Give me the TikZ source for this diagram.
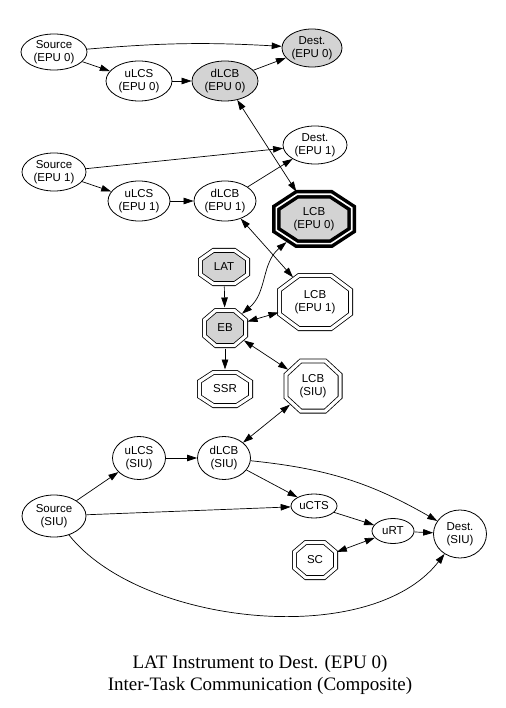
\documentclass[tikz,border=0pt]{standalone}
\usepackage{fontspec}
\setmainfont{Liberation Serif}
\newfontfamily\nodefont{Liberation Sans}
\usetikzlibrary{shapes.geometric,arrows.meta}
\definecolor{lgray}{RGB}{211,211,211}
% octagon outline: #1 options, #2 x, #3 y, #4 half width, #5 half height
\newcommand\octo[5][]{%
 \draw[#1, shift={(#2,#3)}] (#4,{0.45*#5}) -- ({0.45*#4},#5) -- ({-0.45*#4},#5) -- ({-#4},{0.45*#5})
   -- ({-#4},{-0.45*#5}) -- ({-0.45*#4},{-#5}) -- ({0.45*#4},{-#5}) -- (#4,{-0.45*#5}) -- cycle;}
\begin{document}
\begin{tikzpicture}[x=1pt,y=1pt,
 every node/.style={font=\nodefont\fontsize{11.5}{13.5}\selectfont, align=center, inner sep=0pt},
 ell/.style 2 args={ellipse, draw, line width=0.8pt, minimum width=#1, minimum height=#2},
 gr/.style={fill=lgray},
 octline/.style={double, double distance=3.2pt, line width=0.8pt},
 toctline/.style={double, double distance=1.6pt, line width=3.5pt},
 octn/.style 2 args={ellipse, minimum width=#1, minimum height=#2, outer sep=0pt},
 tip/.tip={Triangle[length=10pt,width=6.5pt]},
 arr/.style={line width=0.7pt, -tip},
 barr/.style={line width=0.7pt, tip-tip},
 title/.style={font=\fontsize{19}{21.5}\selectfont\rmfamily},
]
\useasboundingbox (0,0) rectangle (505,-708);
% top: EPU 0
\node[ell={66pt}{36pt}] (S0) at (54,-52) {Source\\(EPU 0)};
\node[ell={66pt}{40pt}] (U0) at (139,-81) {uLCS\\(EPU 0)};
\node[ell={66pt}{40pt}, gr] (D0) at (225,-81) {dLCB\\(EPU 0)};
\node[ell={60pt}{38pt}, gr] (T0) at (312,-48) {Dest.\\(EPU 0)};
% EPU 1
\node[ell={64pt}{38pt}] (S1) at (54,-172) {Source\\(EPU 1)};
\node[ell={64pt}{38pt}] (T1) at (315,-145) {Dest.\\(EPU 1)};
\node[ell={62pt}{40pt}] (U1) at (139,-201) {uLCS\\(EPU 1)};
\node[ell={62pt}{40pt}] (D1) at (225,-201) {dLCB\\(EPU 1)};
% octagons (outline first, then the named node on top)
\octo[toctline, gr]{314}{-219}{37.7}{24.7}
\node[octn={86pt}{60pt}] (L0) at (314,-219) {LCB\\(EPU 0)};
\octo[octline, gr]{224}{-267}{23.6}{16.6}
\node[octn={53.5pt}{39pt}] (LAT) at (224,-267) {LAT};
\octo[octline, gr]{225}{-328}{20.6}{17.6}
\node[octn={47.5pt}{41pt}] (EB) at (225,-328) {EB};
\octo[octline]{315}{-302}{35.6}{26.6}
\node[octn={78pt}{60pt}] (L1) at (315,-302) {LCB\\(EPU 1)};
\octo[octline]{225}{-389}{25.6}{16.6}
\node[octn={57.5pt}{39pt}] (SSR) at (225,-389) {SSR};
\octo[octline]{313}{-386}{27.1}{25.1}
\node[octn={61pt}{57pt}] (LS) at (313,-386) {LCB\\(SIU)};
% SIU
\node[ell={53pt}{43pt}] (US) at (139,-458) {uLCS\\(SIU)};
\node[ell={53pt}{43pt}] (DS) at (224,-458) {dLCB\\(SIU)};
\node[ell={64pt}{42pt}] (SS) at (54,-516) {Source\\(SIU)};
\node[ell={46pt}{24pt}] (CT) at (314,-506) {uCTS};
\node[ell={42pt}{25pt}] (RT) at (393,-531) {uRT};
\node[ell={53pt}{48pt}] (TS) at (460,-534) {Dest.\\(SIU)};
\octo[octline]{315}{-560}{20.6}{17.6}
\node[octn={47.5pt}{41pt}] (SC) at (315,-560) {SC};
% title
\node[title] (TT) at (260,-675) {LAT Instrument to Dest. (EPU 0)\\Inter-Task Communication (Composite)};
% edges
\draw[arr] (S0) to[bend left=4] (T0);
\draw[arr] (S0) -- (U0);
\draw[arr] (U0) -- (D0);
\draw[arr] (D0) -- (T0);
\draw[barr] (D0) -- (L0);
\draw[arr] (S1) -- (T1);
\draw[arr] (S1) -- (U1);
\draw[arr] (U1) -- (D1);
\draw[arr] (D1) -- (T1);
\draw[barr] (D1) -- (L1);
\draw[arr] (LAT) -- (EB);
\draw[barr] (EB) to[out=40,in=-140] (L0);
\draw[barr] (EB) -- (L1);
\draw[arr] (EB) -- (SSR);
\draw[barr] (EB) -- (LS);
\draw[barr] (DS) -- (LS);
\draw[arr] (SS) -- (US);
\draw[arr] (US) -- (DS);
\draw[arr] (DS) -- (CT);
\draw[arr] (DS) to[bend left=12] (TS);
\draw[arr] (SS) -- (CT);
\draw[arr] (SS) .. controls (140,-625) and (370,-650) .. (TS);
\draw[arr] (CT) -- (RT);
\draw[arr] (RT) -- (TS);
\draw[barr] (SC) -- (RT);
\end{tikzpicture}
\end{document}
